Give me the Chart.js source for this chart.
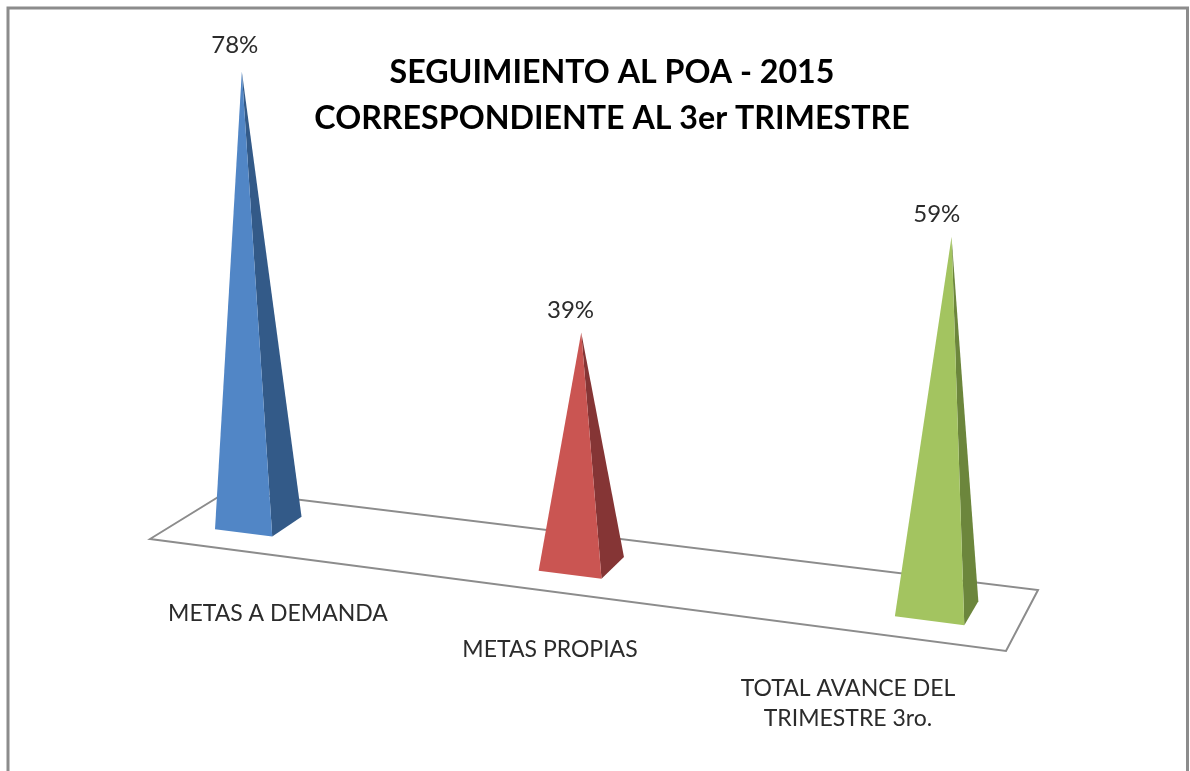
<!DOCTYPE html>
<html>
<head>
<meta charset="utf-8">
<title>Seguimiento al POA</title>
<script src="https://cdn.jsdelivr.net/npm/chart.js@4/dist/chart.umd.min.js"></script>
<style>
  html, body { margin: 0; padding: 0; background: #fff; }
  #wrap { width: 1190px; height: 771px; }
</style>
</head>
<body>
<div id="wrap"><canvas id="poa_chart" width="1190" height="771"></canvas></div>
<script>
const categories = ["METAS A DEMANDA", "METAS PROPIAS", ["TOTAL AVANCE DEL", "TRIMESTRE 3ro."]];
const avance = [78, 39, 59];
const frontColors = ["#5186c6", "#ca5552", "#a3c460"];
const sideColors = ["#335a88", "#853535", "#6c863c"];
const titleLines = ["SEGUIMIENTO AL POA - 2015", "CORRESPONDIENTE AL 3er TRIMESTRE"];

// floor of the 3d view, corners on the canvas
const floorCorners = { fl: [150, 539], fr: [1006, 651], br: [1038, 590], bl: [228, 491] };
const heightZoom = [0.968, 0.992, 1.054];
const labelNudge = [0, -13, 0];
const valueLift = [26, 22, 23];

const makeFloor = ({ fl, fr, br, bl }) => {
  const dx1 = fr[0] - br[0], dx2 = bl[0] - br[0], sx = fl[0] - fr[0] + br[0] - bl[0];
  const dy1 = fr[1] - br[1], dy2 = bl[1] - br[1], sy = fl[1] - fr[1] + br[1] - bl[1];
  const den = dx1 * dy2 - dx2 * dy1;
  const g = (sx * dy2 - dx2 * sy) / den;
  const h = (dx1 * sy - sx * dy1) / den;
  const a = fr[0] - fl[0] + g * fr[0], b = bl[0] - fl[0] + h * bl[0];
  const d = fr[1] - fl[1] + g * fr[1], e = bl[1] - fl[1] + h * bl[1];
  return (u, v) => {
    const w = 1 + g * u + h * v;
    return [(a * u + b * v + fl[0]) / w, (d * u + e * v + fl[1]) / w];
  };
};
const onFloor = makeFloor(floorCorners);

const poly = (ctx, pts, fill) => {
  ctx.beginPath();
  pts.forEach((p, i) => (i ? ctx.lineTo(p[0], p[1]) : ctx.moveTo(p[0], p[1])));
  ctx.closePath();
  ctx.fillStyle = fill;
  ctx.fill();
};

const pyramidPlugin = {
  id: "pyramid",
  beforeDraw(chart) {
    const ctx = chart.ctx;
    ctx.save();
    ctx.strokeStyle = "#8c8c8c";
    ctx.lineWidth = 3;
    ctx.beginPath();
    ctx.moveTo(8, 771);
    ctx.lineTo(8, 8);
    ctx.lineTo(1187.5, 8);
    ctx.lineTo(1187.5, 771);
    ctx.stroke();
    ctx.restore();
  },
  beforeDatasetDraw(chart, args) {
    const ctx = chart.ctx;
    const bars = chart.getDatasetMeta(args.index).data;
    const xScale = chart.scales.x;
    const midX = (xScale.left + xScale.right) / 2;
    const step = xScale.width / categories.length;

    ctx.save();
    const { fl, fr, br, bl } = floorCorners;
    ctx.beginPath();
    [fl, fr, br, bl].forEach((p, i) => (i ? ctx.lineTo(p[0], p[1]) : ctx.moveTo(p[0], p[1])));
    ctx.closePath();
    ctx.strokeStyle = "#8c8c8c";
    ctx.lineWidth = 2;
    ctx.stroke();

    bars.forEach((bar, i) => {
      const u = 0.4995 + ((bar.x - midX) / step) * 0.408;
      const c = onFloor(u, 0.5);
      const height = (bar.base - bar.y) * heightZoom[i];
      const apex = [c[0] + (c[0] - 578) * height * 1.13e-4 - 0.5, c[1] - height];
      const frontL = onFloor(u - 0.0375, 0.3);
      const frontR = onFloor(u + 0.0375, 0.3);
      const backR = onFloor(u + 0.0375, 0.7);
      poly(ctx, [frontR, backR, apex], sideColors[i]);
      poly(ctx, [frontL, frontR, apex], frontColors[i]);

      ctx.fillStyle = "#2b2b2b";
      ctx.textAlign = "center";
      ctx.textBaseline = "middle";
      ctx.font = "24px Lato";
      ctx.fillText(avance[i] + "%", apex[0] - 7 - (apex[0] - 241) * 0.011, apex[1] - valueLift[i]);

      ctx.font = "23px Lato";
      const lines = [].concat(categories[i]);
      const labelX = bar.x - 49 + labelNudge[i];
      const labelY = 614 + (labelX - 278) * 0.13;
      lines.forEach((line, n) => ctx.fillText(line, labelX, labelY + n * 30));
    });
    ctx.restore();
    return false;
  },
};

new Chart(document.getElementById("poa_chart"), {
  type: "bar",
  data: {
    labels: categories,
    datasets: [{ data: avance, backgroundColor: frontColors, borderWidth: 0 }],
  },
  options: {
    responsive: false,
    animation: false,
    layout: { padding: { left: 184.5, right: 150.5, top: 0, bottom: 31 } },
    plugins: {
      legend: { display: false },
      tooltip: { enabled: false },
      title: {
        display: true,
        text: titleLines,
        color: "#000",
        font: { family: "Lato", size: 32.2, weight: "bold", lineHeight: 1.43 },
        padding: { top: 50, bottom: 0 },
      },
    },
    scales: {
      x: { display: false },
      y: { display: false, min: 0, max: 100 },
    },
  },
  plugins: [pyramidPlugin],
});
</script>
</body>
</html>
